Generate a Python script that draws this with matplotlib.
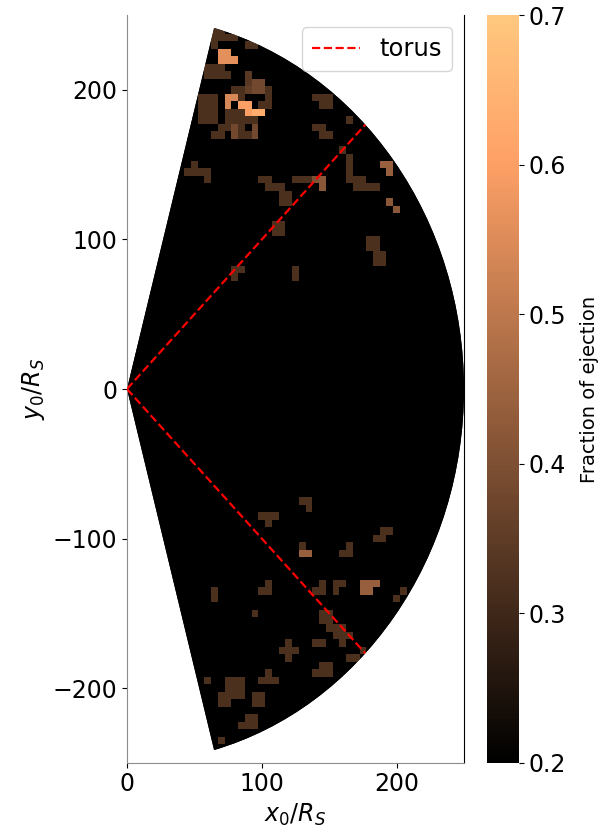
import matplotlib
matplotlib.use("Agg")
import matplotlib.pyplot as plt
import numpy as np
from matplotlib.patches import Wedge


R_MAX = 250.0        # outer radius of launch region (R_S)
THETA_MAX = 75.0     # half opening angle of launch wedge (deg)
TORUS_ANGLE = 45.0   # torus opening angle (deg)
GRID_STEP = 5.0      # spacing of launch grid (R_S)
FRAC_MIN, FRAC_MAX = 0.2, 0.7

# (x0, y0, fraction of ejected particles); every other launch cell is <= 0.2
cells_north = [
    (65, 240, 0.32), (70, 240, 0.32), (65, 235, 0.32), (70, 235, 0.32),
    (75, 235, 0.32), (80, 235, 0.32), (65, 230, 0.32), (90, 230, 0.32), (95, 230, 0.32),
    (70, 225, 0.56), (75, 225, 0.56), (70, 220, 0.56), (75, 220, 0.56), (80, 220, 0.56),
    (60, 215, 0.32), (65, 215, 0.32), (70, 215, 0.32),
    (60, 210, 0.32), (65, 210, 0.32), (70, 210, 0.32), (75, 210, 0.32),
    (90, 210, 0.34), (90, 205, 0.34), (95, 205, 0.38), (100, 205, 0.38),
    (90, 200, 0.36), (95, 200, 0.38), (100, 200, 0.38),
    (80, 200, 0.32), (85, 200, 0.32), (85, 195, 0.32),
    (105, 200, 0.32), (105, 195, 0.32),
    (55, 195, 0.32), (60, 195, 0.32), (65, 195, 0.32),
    (55, 190, 0.32), (60, 190, 0.32), (65, 190, 0.32),
    (55, 185, 0.32), (60, 185, 0.32), (65, 185, 0.32),
    (55, 180, 0.32), (60, 180, 0.32), (65, 180, 0.32),
    (75, 195, 0.54), (80, 195, 0.54), (75, 190, 0.54),
    (85, 190, 0.60), (90, 190, 0.60), (90, 185, 0.60),
    (95, 185, 0.63), (100, 185, 0.63),
    (100, 190, 0.32), (105, 190, 0.32),
    (75, 185, 0.32), (80, 185, 0.32), (85, 185, 0.32),
    (75, 180, 0.32), (80, 180, 0.32), (85, 180, 0.32),
    (70, 175, 0.32), (75, 175, 0.32), (80, 175, 0.38), (85, 175, 0.32),
    (80, 170, 0.38), (85, 170, 0.32), (90, 170, 0.32),
    (65, 170, 0.32), (70, 170, 0.32),
    (90, 180, 0.32), (95, 180, 0.32), (95, 175, 0.38), (95, 170, 0.38),
    (140, 195, 0.32), (145, 195, 0.32), (150, 195, 0.32), (145, 190, 0.32), (150, 190, 0.32),
    (140, 175, 0.32), (145, 175, 0.32), (145, 170, 0.32), (150, 170, 0.32),
    (165, 180, 0.32), (160, 160, 0.32),
    (165, 155, 0.32), (165, 150, 0.32), (165, 145, 0.32),
    (165, 140, 0.32), (170, 140, 0.32), (175, 140, 0.32),
    (170, 135, 0.32), (175, 135, 0.32), (180, 135, 0.32), (185, 135, 0.32),
    (190, 150, 0.44), (195, 150, 0.44), (195, 145, 0.44),
    (195, 125, 0.42), (200, 120, 0.42),
    (50, 150, 0.32), (45, 145, 0.32), (50, 145, 0.32), (55, 145, 0.32),
    (60, 145, 0.32), (60, 140, 0.32),
    (100, 140, 0.32), (105, 140, 0.32), (105, 135, 0.32), (110, 135, 0.32),
    (115, 135, 0.32), (115, 130, 0.32), (120, 130, 0.32), (115, 125, 0.32), (120, 125, 0.32),
    (125, 140, 0.32), (130, 140, 0.32), (135, 140, 0.32),
    (140, 140, 0.40), (145, 140, 0.42), (145, 135, 0.42),
]

cells_middle = [
    (110, 110, 0.32), (115, 110, 0.32), (110, 105, 0.32), (115, 105, 0.32),
    (180, 100, 0.32), (185, 100, 0.32), (180, 95, 0.32), (185, 95, 0.32),
    (185, 90, 0.32), (190, 90, 0.32), (185, 85, 0.32), (190, 85, 0.32),
    (80, 80, 0.32), (85, 80, 0.32), (80, 75, 0.32),
    (125, 80, 0.32), (125, 75, 0.32),
]

cells_south = [
    (130, -75, 0.32), (135, -75, 0.32), (135, -80, 0.32),
    (100, -85, 0.32), (105, -85, 0.32), (110, -85, 0.32), (105, -90, 0.32),
    (190, -95, 0.32), (195, -95, 0.32), (185, -100, 0.32), (190, -100, 0.32),
    (130, -105, 0.32), (130, -110, 0.44), (135, -110, 0.44),
    (165, -105, 0.32), (160, -110, 0.32), (165, -110, 0.32),
    (105, -130, 0.32), (100, -135, 0.32), (105, -135, 0.32),
    (145, -130, 0.32), (140, -135, 0.32), (145, -135, 0.32),
    (155, -130, 0.32), (160, -130, 0.32), (155, -135, 0.32),
    (175, -130, 0.44), (180, -130, 0.44), (185, -130, 0.44), (175, -135, 0.44), (180, -135, 0.44),
    (65, -135, 0.32), (65, -140, 0.32),
    (205, -135, 0.32), (200, -140, 0.32),
    (95, -150, 0.32), (145, -150, 0.32), (150, -150, 0.32),
    (145, -155, 0.32), (150, -155, 0.32),
    (150, -160, 0.32), (155, -160, 0.32), (160, -160, 0.32),
    (155, -165, 0.32), (160, -165, 0.32), (165, -165, 0.32),
    (140, -170, 0.32), (145, -170, 0.32), (160, -170, 0.32),
    (175, -175, 0.32), (165, -180, 0.32), (170, -180, 0.32),
    (120, -170, 0.32), (115, -175, 0.32), (120, -175, 0.32), (125, -175, 0.32), (120, -180, 0.32),
    (145, -185, 0.32), (150, -185, 0.32), (140, -190, 0.32), (145, -190, 0.32), (150, -190, 0.32),
    (105, -190, 0.32), (100, -195, 0.32), (105, -195, 0.32), (110, -195, 0.32),
    (60, -195, 0.32),
    (75, -195, 0.32), (80, -195, 0.32), (85, -195, 0.32),
    (75, -200, 0.32), (80, -200, 0.32), (85, -200, 0.32),
    (70, -205, 0.32), (75, -205, 0.32), (80, -205, 0.32), (85, -205, 0.32),
    (70, -210, 0.32), (75, -210, 0.32),
    (95, -205, 0.32), (100, -205, 0.32), (95, -210, 0.32), (100, -210, 0.32),
    (90, -220, 0.32), (95, -220, 0.32), (85, -225, 0.32), (90, -225, 0.32), (95, -225, 0.32),
    (70, -235, 0.32),
]


def build_grid(cells):
    x0 = np.arange(0, R_MAX + GRID_STEP / 2, GRID_STEP)
    y0 = np.arange(-R_MAX, R_MAX + GRID_STEP / 2, GRID_STEP)
    frac = np.full((len(y0), len(x0)), FRAC_MIN)
    for x, y, f in cells:
        i = int(round((y + R_MAX) / GRID_STEP))
        j = int(round(x / GRID_STEP))
        frac[i, j] = f
    x_edges = np.append(x0 - GRID_STEP / 2, x0[-1] + GRID_STEP / 2)
    y_edges = np.append(y0 - GRID_STEP / 2, y0[-1] + GRID_STEP / 2)
    return x_edges, y_edges, frac


def main() -> None:
    fig = plt.figure(figsize=(6.09, 8.32), dpi=100)
    ax = fig.add_axes([0.2085, 0.0832, 0.5534, 0.8985])
    cax = fig.add_axes([0.7997, 0.0832, 0.0525, 0.8985])

    x_edges, y_edges, frac = build_grid(cells_north + cells_middle + cells_south)

    # black launch region underneath keeps the wedge outline smooth
    region = Wedge((0, 0), R_MAX, -THETA_MAX, THETA_MAX, facecolor="black",
                   edgecolor="none", zorder=1)
    ax.add_patch(region)

    mesh = ax.pcolormesh(x_edges, y_edges, frac, cmap="copper",
                         vmin=FRAC_MIN, vmax=FRAC_MAX, shading="flat", zorder=2)
    clip = Wedge((0, 0), R_MAX, -THETA_MAX, THETA_MAX, transform=ax.transData)
    mesh.set_clip_path(clip)

    for k, sign in enumerate((1, -1)):
        ang = np.deg2rad(sign * TORUS_ANGLE)
        ax.plot([0, R_MAX * np.cos(ang)], [0, R_MAX * np.sin(ang)], color="red",
                linestyle="--", linewidth=1.6, zorder=3,
                label="torus" if k == 0 else None)

    ax.set_xlim(0, R_MAX)
    ax.set_ylim(-R_MAX, R_MAX)
    ax.set_xticks([0, 100, 200])
    ax.set_yticks([-200, -100, 0, 100, 200])
    ax.tick_params(labelsize=17)
    ax.set_xlabel(r"$x_0/R_S$", fontsize=17)
    ax.set_ylabel(r"$y_0/R_S$", fontsize=17)
    ax.spines["top"].set_visible(False)
    ax.spines["left"].set_color("#8c8c8c")
    ax.spines["bottom"].set_color("#8c8c8c")
    ax.legend(loc="upper right", fontsize=17.5)

    cbar = fig.colorbar(mesh, cax=cax)
    cbar.set_ticks([0.2, 0.3, 0.4, 0.5, 0.6, 0.7])
    cbar.ax.tick_params(labelsize=17)
    cbar.set_label("Fraction of ejection", fontsize=14, labelpad=10)
    cbar.outline.set_visible(False)

    fig.savefig("out.png", dpi=100)
    plt.close(fig)


if __name__ == "__main__":
    main()
